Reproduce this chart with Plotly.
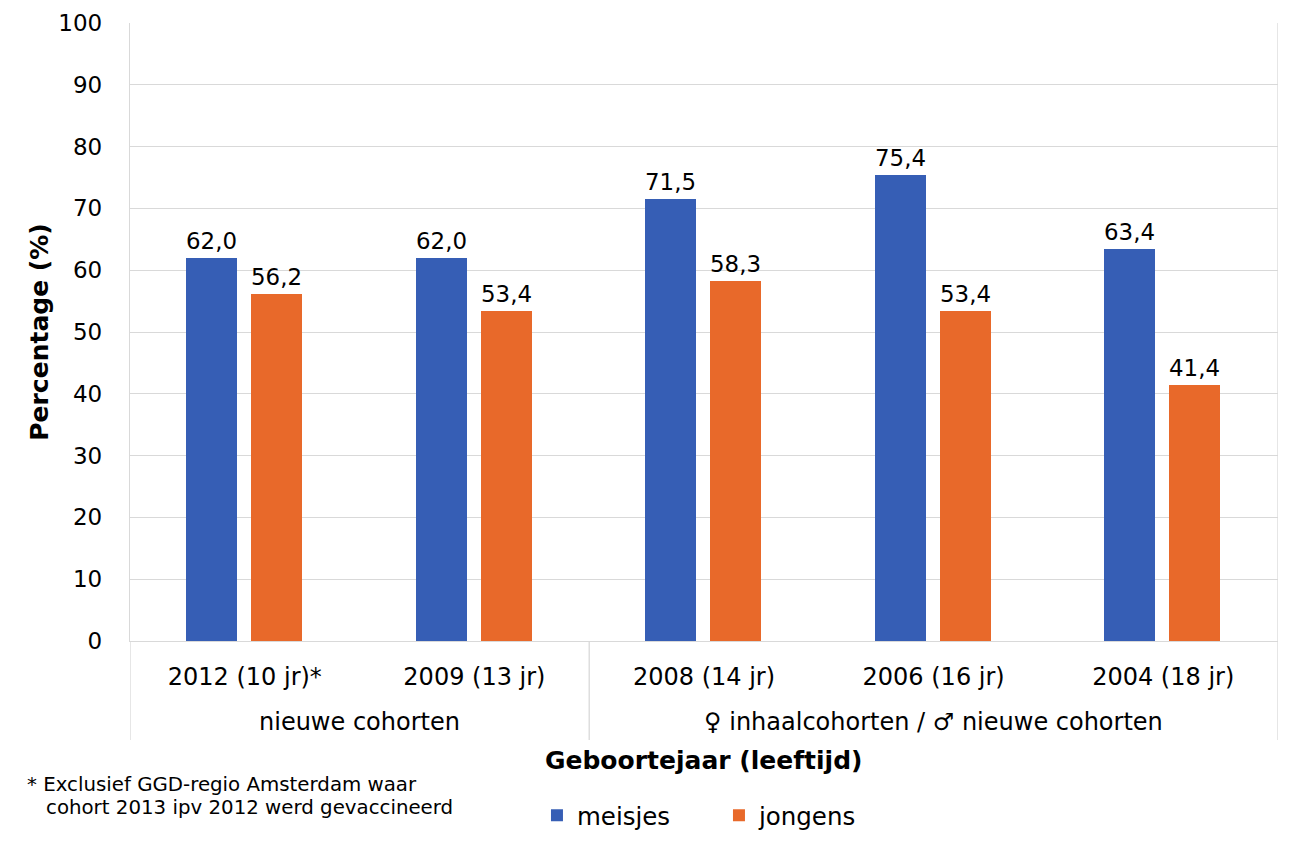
import plotly.graph_objects as go

categories = ["2012 (10 jr)*", "2009 (13 jr)", "2008 (14 jr)", "2006 (16 jr)", "2004 (18 jr)"]
meisjes = [62.0, 62.0, 71.5, 75.4, 63.4]
jongens = [56.2, 53.4, 58.3, 53.4, 41.4]
group_labels = ["nieuwe cohorten", "\u2640 inhaalcohorten / \u2642 nieuwe cohorten"]
y_ticks = [0, 10, 20, 30, 40, 50, 60, 70, 80, 90, 100]

BLUE = "#365EB5"
ORANGE = "#E8692A"
GRID = "#D9D9D9"
FONT = "Verdana, DejaVu Sans, sans-serif"

fig = go.Figure()
for name, vals, color, off in [("meisjes", meisjes, BLUE, -0.256), ("jongens", jongens, ORANGE, 0.027)]:
    fig.add_trace(go.Bar(
        x=categories, y=vals, name=name, marker=dict(color=color, line=dict(width=0)),
        width=0.222, offset=off,
        texttemplate="%{y:.1f}", textposition="outside", cliponaxis=False,
        textfont=dict(size=24, color="#000000", family=FONT),
    ))

# group separators
for xv in [-0.5, 1.5, 4.5]:
    fig.add_shape(type="line", xref="x", yref="paper", x0=xv, x1=xv, y0=0, y1=-0.16,
                  line=dict(color=GRID, width=1.3))
fig.add_shape(type="line", xref="x", yref="paper", x0=4.5, x1=4.5, y0=0, y1=1,
              line=dict(color=GRID, width=1.3))

fig.add_annotation(x=0.5, xref="x", y=-0.131, yref="paper", text=group_labels[0],
                   showarrow=False, yanchor="middle", font=dict(size=24, family=FONT, color="#000"))
fig.add_annotation(x=3, xref="x", y=-0.131, yref="paper", text=group_labels[1],
                   showarrow=False, yanchor="middle", font=dict(size=24, family=FONT, color="#000"))

fig.add_annotation(x=0.5, xref="paper", y=-0.1926, yref="paper", xanchor="center",
                   text="<b>Geboortejaar (leeftijd)</b>", showarrow=False, yanchor="middle",
                   font=dict(size=25, family=FONT, color="#000"))

fig.add_annotation(x=-0.0915, xref="paper", xanchor="left", y=-0.233, yref="paper",
                   yanchor="middle", align="left",
                   text="* Exclusief GGD-regio Amsterdam waar",
                   showarrow=False, font=dict(size=19.8, family=FONT, color="#000"))
fig.add_annotation(x=-0.075, xref="paper", xanchor="left", y=-0.270, yref="paper",
                   yanchor="middle", align="left",
                   text="cohort 2013 ipv 2012 werd gevaccineerd",
                   showarrow=False, font=dict(size=19.8, family=FONT, color="#000"))

fig.update_layout(
    width=1291, height=838,
    margin=dict(l=122, r=21, t=15, b=205, autoexpand=False),
    paper_bgcolor="white", plot_bgcolor="white",
    separators=",.",
    font=dict(family=FONT, size=24, color="#000000"),
    showlegend=True,
    legend=dict(orientation="h", x=0.3545, xanchor="left", y=-0.282, yanchor="middle",
                font=dict(size=24.5, family=FONT), entrywidth=137, entrywidthmode="pixels",
                itemclick=False),
    bargap=0.0,
)
fig.update_xaxes(
    type="category", range=[-0.5, 4.5], showgrid=False, showline=True, linecolor=GRID, linewidth=1.3,
    ticks="", tickfont=dict(size=24, family=FONT), ticklabelstandoff=14, automargin=False,
)
fig.update_yaxes(
    range=[0, 100], tickvals=y_ticks, showgrid=True, gridcolor=GRID, gridwidth=1.3,
    showline=True, linecolor=GRID, linewidth=1.3, zeroline=False, ticks="",
    tickfont=dict(size=23, family=FONT), ticklabelstandoff=22, automargin=False,
    title=dict(text="<b>Percentage (%)</b>", font=dict(size=25, family=FONT), standoff=2),
)

fig.write_html("out.html")
